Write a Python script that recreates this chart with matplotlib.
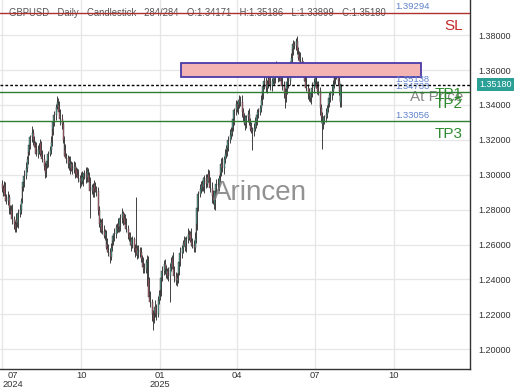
import numpy as np
import pandas as pd
import matplotlib
matplotlib.use("Agg")
import matplotlib.pyplot as plt
import matplotlib.dates as mdates
from matplotlib.patches import Rectangle

plt.rcParams['font.family'] = ['Liberation Sans', 'DejaVu Sans']

# daily closes, in 1e-4 units (12926 -> 1.2926)
closes = [
    12926, 12900, 12935, 12880, 12850, 12870, 12810, 12790, 12800, 12745, 12720, 12690, 12740, 12725, 12780, 12800, 12851, 12930, 12960, 12995,
    13040, 13090, 13130, 13170, 13215, 13240, 13200, 13180, 13160, 13120, 13150, 13137, 13180, 13120, 13090, 13050, 13010, 13060, 13080, 13120,
    13140, 13190, 13260, 13300, 13340, 13390, 13420, 13400, 13360, 13320, 13290, 13200, 13140, 13110, 13095, 13060, 13080, 13040, 13060, 13030,
    13050, 13010, 13025, 13000, 12980, 12960, 12990, 12966, 12990, 13010, 12980, 13020, 13000, 12960, 12910, 12930, 12900, 12940, 12920, 12905,
    12800, 12720, 12700, 12730, 12680, 12650, 12670, 12606, 12580, 12560, 12530, 12580, 12620, 12650, 12660, 12700, 12690, 12720, 12700, 12750,
    12780, 12740, 12755, 12720, 12690, 12660, 12640, 12620, 12600, 12630, 12580, 12560, 12580, 12540, 12570, 12560, 12520, 12500, 12470, 12460,
    12500, 12510, 12400, 12300, 12270, 12200, 12170, 12210, 12240, 12200, 12280, 12310, 12340, 12410, 12450, 12490, 12460, 12430, 12450, 12420,
    12470, 12500, 12520, 12460, 12420, 12390, 12410, 12440, 12500, 12550, 12580, 12610, 12620, 12590, 12630, 12660, 12640, 12665, 12620, 12600,
    12580, 12640, 12720, 12810, 12890, 12920, 12940, 12950, 12930, 12980, 12950, 12990, 13005, 12960, 12926, 12880, 12850, 12830, 12910, 12950,
    12940, 12980, 13010, 13060, 13040, 13090, 13120, 13140, 13155, 13200, 13230, 13250, 13270, 13320, 13370, 13405, 13380, 13400, 13430, 13420,
    13360, 13330, 13310, 13290, 13330, 13350, 13300, 13280, 13260, 13250, 13270, 13300, 13310, 13340, 13360, 13385, 13430, 13470, 13510, 13540,
    13500, 13520, 13555, 13560, 13510, 13540, 13580, 13550, 13590, 13610, 13560, 13600, 13575, 13540, 13510, 13470, 13440, 13490, 13530, 13540,
    13630, 13670, 13720, 13750, 13740, 13765, 13710, 13690, 13670, 13650, 13630, 13595, 13570, 13540, 13500, 13465, 13450, 13440, 13470, 13500,
    13530, 13555, 13520, 13500, 13480, 13385, 13330, 13290, 13310, 13330, 13350, 13380, 13405, 13440, 13460, 13480, 13520, 13555, 13570, 13580,
    13540, 13480, 13417, 13518,
]
first_open = 12950

# upper / lower wick lengths in pips
wick_up = [
    20, 15, 30, 25, 10, 35, 20, 15, 25, 30, 20, 15, 40, 20, 25, 30, 15, 20, 25, 30,
    35, 20, 25, 30, 15, 40, 20, 25, 15, 30, 20, 35, 25, 15, 20, 30, 25, 20, 30, 15,
    25, 30, 20, 35, 25, 15, 30, 20, 25, 15, 30, 20, 25, 35, 15, 20, 30, 25, 20, 15,
    30, 25, 20, 15, 35, 20, 25, 30, 15, 20, 35, 25, 20, 15, 30, 20, 25, 30, 20, 15,
    25, 20, 30, 15, 25, 35, 20, 15, 30, 25, 20, 30, 25, 15, 35, 20, 25, 30, 20, 25,
    30, 15, 25, 20, 35, 20, 15, 30, 25, 20, 15, 25, 290, 20, 30, 15, 25, 20, 30, 25,
    20, 30, 25, 15, 35, 20, 25, 30, 40, 20, 25, 30, 15, 35, 25, 20, 30, 25, 15, 20,
    25, 30, 20, 35, 15, 25, 30, 20, 25, 35, 20, 15, 30, 25, 20, 35, 25, 15, 30, 20,
    25, 30, 35, 20, 15, 30, 25, 20, 35, 20, 25, 15, 30, 20, 25, 30, 35, 20, 15, 25,
    30, 20, 25, 35, 40, 20, 25, 30, 15, 20, 35, 25, 20, 30, 15, 25, 20, 30, 25, 20,
    35, 20, 25, 30, 15, 20, 30, 25, 20, 15, 25, 30, 20, 35, 25, 15, 30, 20, 25, 30,
    20, 25, 35, 20, 30, 15, 25, 20, 30, 40, 20, 25, 30, 15, 20, 25, 30, 20, 35, 25,
    20, 30, 25, 20, 15, 18, 30, 25, 20, 35, 25, 20, 15, 30, 25, 20, 35, 25, 20, 30,
    25, 20, 30, 15, 35, 25, 20, 30, 25, 15, 30, 20, 25, 35, 20, 30, 25, 20, 15, 25,
    30, 20, 25, 1,
]
wick_dn = [
    25, 20, 15, 30, 20, 25, 35, 15, 20, 25, 30, 20, 15, 25, 30, 20, 25, 15, 20, 30,
    20, 25, 30, 15, 20, 25, 30, 20, 35, 15, 25, 20, 30, 25, 15, 20, 30, 25, 20, 35,
    15, 20, 25, 30, 20, 25, 15, 30, 20, 35, 25, 20, 30, 15, 25, 20, 30, 35, 20, 25,
    20, 30, 25, 15, 20, 35, 25, 20, 30, 15, 25, 20, 30, 25, 160, 20, 25, 30, 20, 25,
    30, 20, 25, 35, 20, 15, 25, 30, 20, 25, 35, 20, 15, 25, 30, 20, 25, 15, 30, 20,
    25, 30, 20, 25, 15, 30, 20, 25, 35, 20, 25, 30, 20, 25, 15, 30, 20, 25, 35, 20,
    25, 135, 30, 20, 25, 35, 60, 20, 25, 30, 15, 20, 25, 35, 20, 25, 30, 20, 25, 30,
    150, 20, 25, 30, 35, 20, 25, 30, 15, 20, 25, 30, 20, 25, 35, 20, 15, 25, 30, 20,
    25, 20, 30, 35, 15, 20, 25, 30, 20, 35, 25, 20, 30, 15, 25, 40, 20, 25, 30, 20,
    25, 30, 20, 15, 25, 35, 20, 25, 30, 20, 15, 25, 30, 20, 35, 25, 20, 30, 20, 25,
    30, 20, 25, 35, 20, 25, 15, 30, 20, 110, 25, 20, 30, 25, 15, 20, 25, 30, 35, 20,
    25, 30, 20, 15, 25, 30, 20, 35, 25, 20, 30, 25, 20, 15, 25, 30, 57, 20, 25, 30,
    25, 20, 30, 35, 20, 25, 15, 30, 20, 25, 35, 20, 30, 25, 20, 30, 25, 20, 35, 25,
    30, 20, 25, 35, 20, 40, 30, 140, 25, 20, 30, 25, 20, 15, 25, 30, 20, 25, 35, 20,
    25, 20, 30, 27,
]

sl_level = 1.39294
at_price = 1.35138
tp_level = 1.34733
tp3_level = 1.33056
last_close = 1.35180
zone = (1.3563, 1.3640, '2025-01-26', '2025-11-01')

title = ("GBPUSD - Daily - Candlestick   284/284 - O:1.34171 - "
         "H:1.35186 - L:1.33899 - C:1.35180")

dates = pd.bdate_range('2024-07-01', periods=len(closes))
xd = mdates.date2num(dates)
c = np.array(closes) / 1e4
o = np.concatenate([[first_open], closes[:-1]]) / 1e4
hi = np.maximum(o, c) + np.array(wick_up) / 1e4
lo = np.minimum(o, c) - np.array(wick_dn) / 1e4
up = c >= o

fig = plt.figure(figsize=(5.2, 3.9), dpi=100)
ax = fig.add_axes([0, 21 / 390, 470 / 520, 369 / 390])

d0 = mdates.date2num(pd.Timestamp('2025-01-01'))
ax.set_xlim(d0 - 160 / 0.857, d0 + 310 / 0.857)
ax.set_ylim(1.18871, 1.40017)

ax.grid(True, color='#e6e6e6', lw=0.9, zorder=0)
ax.set_axisbelow(True)

ax.vlines(xd, lo, hi, color='#222222', lw=0.6, zorder=3)
ax.bar(xd, np.maximum(np.abs(c - o), 0.0002), bottom=np.minimum(o, c), width=1.0,
       color=np.where(up, '#55b5a2', '#cc6677'), edgecolor='#333333', lw=0.3, zorder=4)

# zone
z0, z1, zx0, zx1 = zone
ax.add_patch(Rectangle((mdates.date2num(pd.Timestamp(zx0)), z0),
                       mdates.date2num(pd.Timestamp(zx1)) - mdates.date2num(pd.Timestamp(zx0)),
                       z1 - z0, facecolor='#f5b4b4', edgecolor='#4b3aa8', lw=1.3, zorder=5))

ax.axhline(sl_level, color='#b03030', lw=1.0, zorder=6)
ax.axhline(at_price, color='black', lw=1.0, ls=(0, (2, 1.5)), zorder=6)
ax.axhline(tp_level, color='#2e7d32', lw=1.0, zorder=6)
ax.axhline(tp3_level, color='#2e7d32', lw=1.0, zorder=6)

blue = '#5f82cc'
for lvl in [sl_level, at_price, tp_level, tp3_level]:
    ax.text(395 / 470, lvl + 0.0009, f'{lvl:.5f}', transform=ax.get_yaxis_transform(),
            color=blue, fontsize=6.8, ha='left', va='bottom', zorder=7)

tr = ax.transAxes
ax.text(463 / 470, 1 - 25.5 / 369, 'SL', color='#c62828', fontsize=11, ha='right', va='center', transform=tr)
ax.text(463 / 470, 1 - 97 / 369, 'At Price', color='#888888', fontsize=11, ha='right', va='center', transform=tr)
ax.text(463 / 470, 1 - 94 / 369, 'TP1', color='#2e8b2e', fontsize=11, ha='right', va='center', transform=tr)
ax.text(463 / 470, 1 - 104 / 369, 'TP2', color='#2e8b2e', fontsize=11, ha='right', va='center', transform=tr)
ax.text(463 / 470, 1 - 133.5 / 369, 'TP3', color='#2e8b2e', fontsize=11, ha='right', va='center', transform=tr)

ax.text(9 / 470, 1 - 13.3 / 369, title, color='#555555', fontsize=6.85, ha='left', va='center',
        transform=tr, zorder=5)
ax.text(260 / 470, 1 - 193 / 369, 'Arincen', color='#777777', alpha=0.8, fontsize=20,
        ha='center', va='center', transform=tr, zorder=8)

# current price box on right axis
ax.text(1.019, last_close, f'{last_close:.5f}', transform=ax.get_yaxis_transform(),
        color='white', fontsize=6.5, ha='left', va='center', clip_on=False,
        bbox=dict(boxstyle='square,pad=0.25', facecolor='#2aa096', edgecolor='none'))

# axes styling
for s in ['left', 'top']:
    ax.spines[s].set_visible(False)
for s in ['right', 'bottom']:
    ax.spines[s].set_color('#333333')
    ax.spines[s].set_linewidth(1.0)

ax.yaxis.tick_right()
ax.set_yticks(np.arange(1.20, 1.381, 0.02))
ax.set_yticklabels([f'{v:.5f}' for v in np.arange(1.20, 1.381, 0.02)])
ax.tick_params(axis='y', length=0, pad=6, labelsize=6.5, labelcolor='#333333')

tick_dates = ['2024-07-01', '2024-10-01', '2025-01-01', '2025-04-01', '2025-07-01', '2025-10-01']
tick_labels = ['07\n2024', '10', '01\n2025', '04', '07', '10']
ax.set_xticks(mdates.date2num(pd.to_datetime(tick_dates)))
ax.set_xticklabels(tick_labels, linespacing=0.95)
ax.tick_params(axis='x', length=0, pad=1.5, labelsize=6.7, labelcolor='#333333')
first = ax.get_xticklabels()[0]
first.set_ha('left')
first.set_multialignment('center')

fig.savefig('out.png', dpi=100)
